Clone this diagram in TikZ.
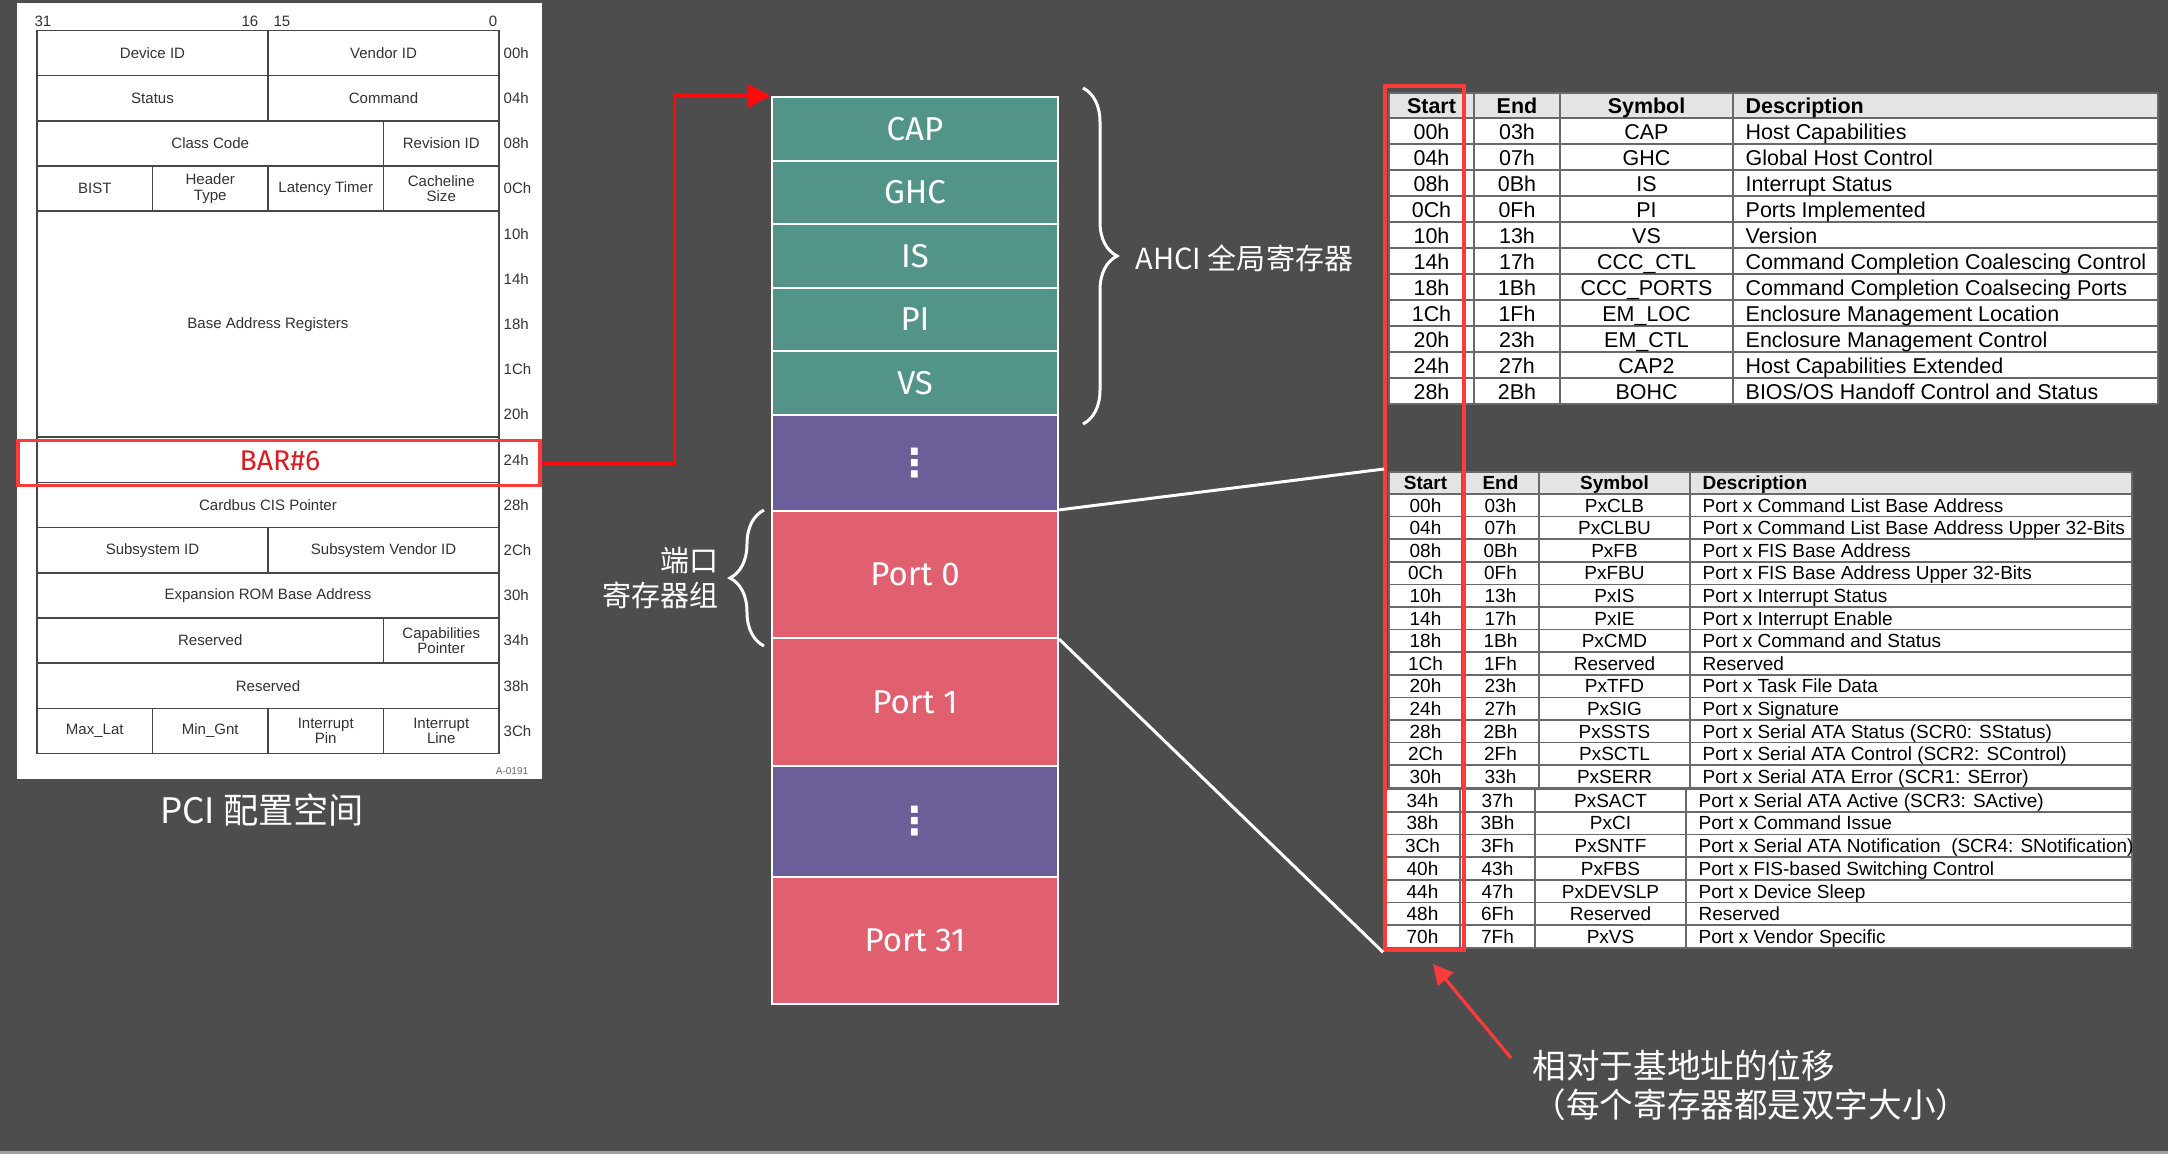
\documentclass[tikz,border=0pt]{standalone}
\usepackage{fontspec}
\setmainfont{Liberation Sans}
\newfontfamily\cjk{Noto Sans CJK SC}
\newfontfamily\lblfont{Fira Sans}
\newfontfamily\symfont{DejaVu Sans}
\usetikzlibrary{arrows.meta,decorations.pathreplacing}

\definecolor{bgdark}{RGB}{77,77,77}
\definecolor{stripgray}{RGB}{160,160,160}
\definecolor{glbteal}{RGB}{82,148,136}
\definecolor{gappurple}{RGB}{107,94,153}
\definecolor{portpink}{RGB}{224,96,112}
\definecolor{markred}{RGB}{255,58,58}
\definecolor{arrowred}{RGB}{250,12,12}
\definecolor{barred}{RGB}{215,30,35}
\definecolor{cfgline}{RGB}{70,70,70}
\definecolor{tabline}{RGB}{105,105,105}
\definecolor{headgray}{RGB}{228,228,228}

\newcommand\pcifont{\fontsize{4.27pt}{4.3pt}\selectfont}
\newcommand\regfont{\lblfont\fontsize{9.4pt}{11pt}\selectfont}
\newcommand\gtabfont{\fontsize{6.1pt}{7pt}\selectfont}
\newcommand\ptabfont{\fontsize{5.4pt}{6pt}\selectfont}

\tikzset{ pc/.style = { rectangle % pci config cell
        , draw = cfgline
        , line width = 0.5pt
        , fill = white
        , inner sep = 0pt
        , minimum height = 0.452cm
        , font = \pcifont
        , align = center
        , text = black!80
        }
        , offs/.style = { anchor = west % config offset
        , inner sep = 0pt
        , font = \pcifont
        , text = black!80
        }
        , reg/.style = { rectangle % ahci block
        , draw = white
        , line width = 0.6pt
        , minimum width = 2.86cm
        , inner sep = 0pt
        , font = \regfont
        , text = white
        }
        , redbox/.style = { rectangle % highlight
        , draw = markred
        , line width = 1.1pt
        , inner sep = 0pt
        }
        , gtxt/.style = { inner sep = 0pt % global table text
        , font = \gtabfont
        , text height = 4.4pt
        , text depth = 0pt
        }
        , ptxt/.style = { inner sep = 0pt % port table text
        , font = \ptabfont
        , text height = 3.9pt
        , text depth = 0pt
        }
        , lbl/.style = { inner sep = 0pt % chinese label
        , text = white
        , font = \cjk\fontsize{8.25pt}{10pt}\selectfont
        }
        }

\begin{document}
\begin{tikzpicture}[x=0.01cm, y=-0.01cm,
        tabgrid/.style={draw=tabline, line width=0.5pt},
        brace/.style={draw=white, line width=0.85pt, decorate, decoration={brace, amplitude=0.34cm}},
        zoomline/.style={draw=white, line width=0.85pt},
        barlink/.style={draw=arrowred, line width=0.85pt, -{Triangle[length=0.23cm, width=0.23cm]}},
        pointer/.style={draw=markred, line width=0.9pt, -{Triangle[length=0.2cm, width=0.2cm]}}]
        \useasboundingbox (0,0) rectangle (2168,1154);
        \fill[bgdark] (0,0) rectangle (2168,1154);
        \fill[stripgray] (0,1151) rectangle (2168,1154);

        % pci configuration space
        \fill[white] (17,3) rectangle (542,779);
        \node[offs, anchor=center] (b31) at (43,21) {31};
        \node[offs, anchor=center] (b16) at (250,21) {16};
        \node[offs, anchor=center] (b15) at (282,21) {15};
        \node[offs, anchor=center] (b0) at (493,21) {0};
        \node[pc, minimum width=2.31cm] (devid) at (152.5,53) {Device ID};
        \node[pc, minimum width=2.31cm] (vendid) at (383.5,53) {Vendor ID};
        \node[pc, minimum width=2.31cm] (status) at (152.5,98.2) {Status};
        \node[pc, minimum width=2.31cm] (command) at (383.5,98.2) {Command};
        \node[pc, minimum width=3.465cm] (classcode) at (210.25,143.4) {Class Code};
        \node[pc, minimum width=1.155cm] (revid) at (441.25,143.4) {Revision ID};
        \node[pc, minimum width=1.155cm] (bist) at (94.75,188.6) {BIST};
        \node[pc, minimum width=1.155cm] (hdrtype) at (210.25,188.6) {Header\\Type};
        \node[pc, minimum width=1.155cm] (lattimer) at (325.75,188.6) {Latency Timer};
        \node[pc, minimum width=1.155cm] (cacheline) at (441.25,188.6) {Cacheline\\Size};
        \node[pc, minimum width=4.62cm, minimum height=2.26cm] (bars) at (268,324.2) {Base Address Registers};
        \node[pc, minimum width=4.62cm] (bar6) at (268,459.8) {};
        \node[inner sep=0pt, text=barred, font=\lblfont\fontsize{8.1pt}{9pt}\selectfont] (bar6txt) at (280,461) {BAR\#6};
        \node[pc, minimum width=4.62cm] (cardbus) at (268,505) {Cardbus CIS Pointer};
        \node[pc, minimum width=2.31cm] (subsysid) at (152.5,550.2) {Subsystem ID};
        \node[pc, minimum width=2.31cm] (subvendid) at (383.5,550.2) {Subsystem Vendor ID};
        \node[pc, minimum width=4.62cm] (exprom) at (268,595.4) {Expansion ROM Base Address};
        \node[pc, minimum width=3.465cm] (rsvda) at (210.25,640.6) {Reserved};
        \node[pc, minimum width=1.155cm] (capptr) at (441.25,640.6) {Capabilities\\Pointer};
        \node[pc, minimum width=4.62cm] (rsvdb) at (268,685.8) {Reserved};
        \node[pc, minimum width=1.155cm] (maxlat) at (94.75,731) {Max\_Lat};
        \node[pc, minimum width=1.155cm] (mingnt) at (210.25,731) {Min\_Gnt};
        \node[pc, minimum width=1.155cm] (intpin) at (325.75,731) {Interrupt\\Pin};
        \node[pc, minimum width=1.155cm] (intline) at (441.25,731) {Interrupt\\Line};
        \foreach \off [count=\i from 0] in {00h,04h,08h,0Ch,10h,14h,18h,1Ch,20h,24h,28h,2Ch,30h,34h,38h,3Ch}
            \node[offs] (off\i) at (503,{53+45.2*\i}) {\off};
        \node[inner sep=0pt, text=black!60, font=\fontsize{2.85pt}{3pt}\selectfont] (fignum) at (512,771) {A-0191};
        \node[redbox, minimum width=5.22cm, minimum height=0.45cm] (barbox) at (279,463) {};
        \node[lbl, font=\cjk\fontsize{10pt}{12pt}\selectfont] (pcititle) at (262,810) {PCI 配置空间};

        % ahci memory layout
        \node[reg, fill=glbteal, minimum height=0.636cm] (cap) at (915,128.8) {CAP};
        \node[reg, fill=glbteal, minimum height=0.636cm] (ghc) at (915,192.4) {GHC};
        \node[reg, fill=glbteal, minimum height=0.636cm] (is) at (915,256) {IS};
        \node[reg, fill=glbteal, minimum height=0.636cm] (pi) at (915,319.6) {PI};
        \node[reg, fill=glbteal, minimum height=0.636cm] (vs) at (915,383.2) {VS};
        \node[reg, fill=gappurple, minimum height=0.96cm, font=\symfont\bfseries\fontsize{11pt}{11pt}\selectfont] (dotsa) at (915,463) {⋮};
        \node[reg, fill=portpink, minimum height=1.27cm] (port0) at (915,574.5) {Port 0};
        \node[reg, fill=portpink, minimum height=1.28cm] (port1) at (915,702) {Port 1};
        \node[reg, fill=gappurple, minimum height=1.11cm, font=\symfont\bfseries\fontsize{11pt}{11pt}\selectfont] (dotsb) at (915,821.5) {⋮};
        \node[reg, fill=portpink, minimum height=1.27cm] (port31) at (915,940.5) {Port 31};
        \coordinate (bend) at (675,0);
        \draw[barlink] (barbox.east) -| (bend |- cap.north west) -- (cap.north west);
        \draw[brace] (1083,88) -- (1083,424);
        \node[lbl, anchor=west] (ahcilbl) at (1135,258) {AHCI 全局寄存器};
        \draw[brace] (764,646) -- (764,510);
        \node[lbl, anchor=east, align=right, font=\cjk\fontsize{8.25pt}{10pt}\selectfont] (portlbl) at (719,578) {端口\\寄存器组};

        % global register table
        \fill[white] (1389,92.7) rectangle (2158,404.3);
        \fill[headgray] (1389,92.7) rectangle (2158,118.3);
        \draw[tabgrid] (1389,92.7) -- (2158,92.7);
        \foreach \i in {0,...,11}
            \draw[tabgrid] (1389,{118.3+26*\i}) -- (2158,{118.3+26*\i});
        \foreach \x in {1389,1474,1560,1733,2158}
            \draw[tabgrid] (\x,92.7) -- (\x,404.3);
        \node[gtxt, font=\gtabfont\bfseries] (ghs) at (1431.5,105.5) {Start};
        \node[gtxt, font=\gtabfont\bfseries] (ghe) at (1517,105.5) {End};
        \node[gtxt, font=\gtabfont\bfseries] (ghy) at (1646.5,105.5) {Symbol};
        \node[gtxt, font=\gtabfont\bfseries, anchor=west] (ghd) at (1745,105.5) {Description};
        \foreach \st/\en/\sy/\de [count=\i from 0] in {00h/03h/CAP/{Host Capabilities},
                04h/07h/GHC/{Global Host Control}, 08h/0Bh/IS/{Interrupt Status},
                0Ch/0Fh/PI/{Ports Implemented}, 10h/13h/VS/{Version},
                14h/17h/CCC\_CTL/{Command Completion Coalescing Control},
                18h/1Bh/CCC\_PORTS/{Command Completion Coalsecing Ports},
                1Ch/1Fh/EM\_LOC/{Enclosure Management Location},
                20h/23h/EM\_CTL/{Enclosure Management Control},
                24h/27h/CAP2/{Host Capabilities Extended},
                28h/2Bh/BOHC/{BIOS/OS Handoff Control and Status}} {
            \node[gtxt] (gs\i) at (1431.5,{131.3+26*\i}) {\st};
            \node[gtxt] (ge\i) at (1517,{131.3+26*\i}) {\en};
            \node[gtxt] (gy\i) at (1646.5,{131.3+26*\i}) {\sy};
            \node[gtxt, anchor=west] (gd\i) at (1745,{131.3+26*\i}) {\de};
        }

        % port register table
        \fill[white] (1389,472) rectangle (2132,787.8);
        \fill[headgray] (1389,472) rectangle (2132,494);
        \draw[tabgrid] (1389,472) -- (2132,472);
        \foreach \i in {0,...,13}
            \draw[tabgrid] (1389,{494+22.6*\i}) -- (2132,{494+22.6*\i});
        \foreach \x in {1389,1462,1539,1690,2132}
            \draw[tabgrid] (\x,472) -- (\x,787.8);
        \node[ptxt, font=\ptabfont\bfseries] (phs) at (1425.5,483) {Start};
        \node[ptxt, font=\ptabfont\bfseries] (phe) at (1500.5,483) {End};
        \node[ptxt, font=\ptabfont\bfseries] (phy) at (1614.5,483) {Symbol};
        \node[ptxt, font=\ptabfont\bfseries, anchor=west] (phd) at (1702,483) {Description};
        \foreach \st/\en/\sy/\de [count=\i from 0] in {00h/03h/PxCLB/{Port x Command List Base Address},
                04h/07h/PxCLBU/{Port x Command List Base Address Upper 32-Bits},
                08h/0Bh/PxFB/{Port x FIS Base Address},
                0Ch/0Fh/PxFBU/{Port x FIS Base Address Upper 32-Bits},
                10h/13h/PxIS/{Port x Interrupt Status}, 14h/17h/PxIE/{Port x Interrupt Enable},
                18h/1Bh/PxCMD/{Port x Command and Status}, 1Ch/1Fh/Reserved/{Reserved},
                20h/23h/PxTFD/{Port x Task File Data}, 24h/27h/PxSIG/{Port x Signature},
                28h/2Bh/PxSSTS/{Port x Serial ATA Status (SCR0: SStatus)},
                2Ch/2Fh/PxSCTL/{Port x Serial ATA Control (SCR2: SControl)},
                30h/33h/PxSERR/{Port x Serial ATA Error (SCR1: SError)}} {
            \node[ptxt] (ps\i) at (1425.5,{505.3+22.6*\i}) {\st};
            \node[ptxt] (pe\i) at (1500.5,{505.3+22.6*\i}) {\en};
            \node[ptxt] (py\i) at (1614.5,{505.3+22.6*\i}) {\sy};
            \node[ptxt, anchor=west] (pd\i) at (1702,{505.3+22.6*\i}) {\de};
        }
        \fill[white] (1385,789) rectangle (2132,947.9);
        \foreach \i in {0,...,7}
            \draw[tabgrid] (1385,{789+22.7*\i}) -- (2132,{789+22.7*\i});
        \foreach \x in {1385,1460,1535,1686,2132}
            \draw[tabgrid] (\x,789) -- (\x,947.9);
        \foreach \st/\en/\sy/\de [count=\i from 13] in {34h/37h/PxSACT/{Port x Serial ATA Active (SCR3: SActive)},
                38h/3Bh/PxCI/{Port x Command Issue},
                3Ch/3Fh/PxSNTF/{Port x Serial ATA Notification\ \ (SCR4: SNotification)},
                40h/43h/PxFBS/{Port x FIS-based Switching Control},
                44h/47h/PxDEVSLP/{Port x Device Sleep}, 48h/6Fh/Reserved/{Reserved},
                70h/7Fh/PxVS/{Port x Vendor Specific}} {
            \node[ptxt] (ps\i) at (1422.5,{800.35+22.7*(\i-13)}) {\st};
            \node[ptxt] (pe\i) at (1497.5,{800.35+22.7*(\i-13)}) {\en};
            \node[ptxt] (py\i) at (1610.5,{800.35+22.7*(\i-13)}) {\sy};
            \node[ptxt, anchor=west] (pd\i) at (1698,{800.35+22.7*(\i-13)}) {\de};
        }

        % offsets column and links
        \node[redbox, minimum width=0.79cm, minimum height=8.64cm] (offbox) at (1424.5,518) {};
        \coordinate (ptop) at (1384,469);
        \draw[zoomline] (port0.north east) -- (ptop);
        \draw[zoomline] (port0.south east) -- (offbox.south west);
        \node[lbl, anchor=west, align=left, font=\cjk\fontsize{9.55pt}{11.1pt}\selectfont] (note) at (1532,1085) {相对于基地址的位移\\（每个寄存器都是双字大小）};
        \coordinate (notetail) at (1511,1058);
        \coordinate (notetip) at (1433,964);
        \draw[pointer] (notetail) -- (notetip);
\end{tikzpicture}
\end{document}
